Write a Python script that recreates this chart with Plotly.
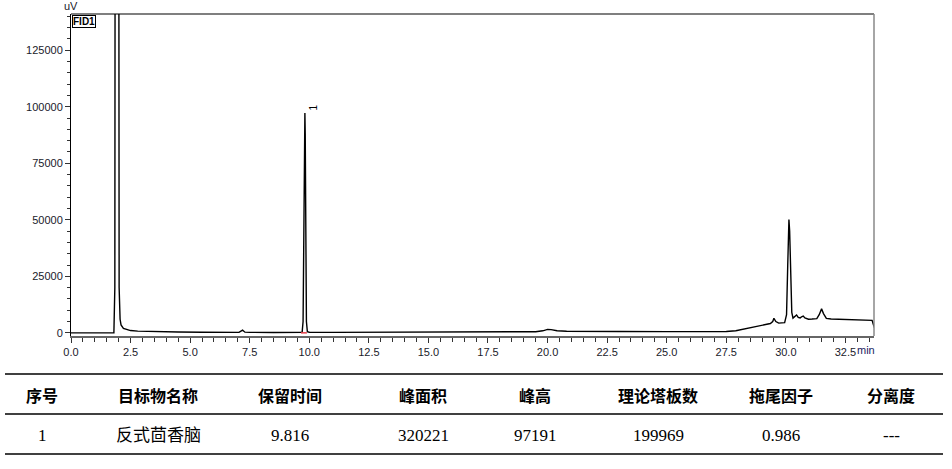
import plotly.graph_objects as go

# chromatogram (min, uV)
tiempo = [0.0, 1.80, 1.84, 1.86, 1.90, 1.96, 2.00, 2.02, 2.06, 2.10, 2.20, 2.35, 2.5, 2.8, 3.2, 3.8,
          4.5, 5.5, 6.5, 7.05, 7.15, 7.2, 7.3, 7.5, 8.5, 9.5, 9.70, 9.74, 9.78, 9.80, 9.816, 9.83,
          9.85, 9.88, 9.92, 10.0, 11.0, 12.5, 14.0, 15.5, 17.0, 18.5, 19.5, 19.8, 20.0, 20.15, 20.4,
          20.8, 21.5, 23.0, 25.0, 26.5, 27.5, 27.9, 28.2, 28.5, 28.8, 29.1, 29.35, 29.45, 29.5,
          29.58, 29.7, 29.95, 30.03, 30.08, 30.13, 30.16, 30.2, 30.25, 30.3, 30.4, 30.45, 30.52,
          30.6, 30.68, 30.73, 30.8, 30.95, 31.1, 31.3, 31.4, 31.5, 31.58, 31.7, 31.9, 32.5, 33.0,
          33.5, 33.62, 33.68, 33.75]
senal = [0, 0, 20000, 600000, 900000, 800000, 150000, 20000, 6000, 3500, 2000, 1400, 1000, 750, 600, 450,
         350, 250, 200, 200, 900, 1200, 300, 200, 150, 150, 200, 5000, 60000, 92000, 97191, 88000,
         40000, 5000, 500, 250, 200, 200, 250, 300, 350, 400, 500, 900, 1500, 1400, 900,
         700, 600, 600, 550, 500, 600, 900, 1500, 2300, 3000, 3600, 4100, 5000, 6400,
         5000, 4300, 4500, 8000, 30000, 50100, 45000, 25000, 9000, 6500, 7500, 7900, 6800,
         6600, 7200, 7400, 6600, 6000, 6100, 6300, 8000, 10600, 8500, 6400, 6100, 5900, 5800,
         5600, 5500, 3500, 1500]

pico_tr = 9.816
pico_base = [9.65, 9.90]

# result table
cabecera = ['序号', '目标物名称', '保留时间', '峰面积', '峰高', '理论塔板数', '拖尾因子', '分离度']
fila = ['1', '反式茴香脑', '9.816', '320221', '97191', '199969', '0.986', '---']
col_px = [42, 158, 290, 423, 535, 658, 781, 891]

W, H = 952, 469
L, R, T, B = 71, 874, 14, 336


def px(x):
    return (x - L) / (R - L)


def py(y):
    return (B - y) / (B - T)


def texto(x, y, s, fuente, **kw):
    fig.add_annotation(x=px(x), y=py(y), xref='paper', yref='paper', text=s, showarrow=False,
                       xanchor=kw.pop('xanchor', 'center'), yanchor=kw.pop('yanchor', 'middle'),
                       font=fuente, **kw)


fig = go.Figure()
fig.add_trace(go.Scatter(x=tiempo, y=senal, mode='lines',
                         line=dict(color='black', width=1.4), hoverinfo='skip'))
fig.add_trace(go.Scatter(x=pico_base, y=[0, 0], mode='lines',
                         line=dict(color='#e8404a', width=1.5), hoverinfo='skip'))

eje = dict(showgrid=False, zeroline=False, showline=True, ticks='outside', ticklen=5,
           tickfont=dict(family='Liberation Sans', size=11, color='#1a1a2a'))
fig.update_xaxes(range=[0, 33.7], dtick=2.5, tickformat='.1f', linecolor='#666', linewidth=1.5,
                 tickcolor='#333', minor=dict(dtick=0.5, ticks='outside', ticklen=4, tickcolor='#333'),
                 **eje)
fig.update_yaxes(range=[-1400, 141000], dtick=25000, tickformat='d', linecolor='black', linewidth=1,
                 tickcolor='#333', minor=dict(dtick=5000, ticks='outside', ticklen=3, tickcolor='#333'),
                 **eje)

fig.add_shape(type='line', xref='paper', yref='paper', x0=0, x1=1, y0=1, y1=1,
              line=dict(color='black', width=1.2))
fig.add_shape(type='line', xref='paper', yref='paper', x0=1, x1=1, y0=0, y1=1,
              line=dict(color='#888', width=1.5))

sans = dict(family='Liberation Sans', size=11, color='#1a1a2a')
texto(71, 6, 'uV', sans)
texto(866, 350, 'min', dict(family='Liberation Sans', size=11, color='#1a1a60'))
texto(72, 15, '<b>FID1</b>', dict(family='Liberation Sans', size=10, color='black'),
      xanchor='left', yanchor='top', bordercolor='black', borderwidth=1, borderpad=0, bgcolor='white')
fig.add_annotation(x=pico_tr, y=py(107), yref='paper', text='1', textangle=-90, showarrow=False,
                   xanchor='left', yanchor='middle', xshift=1,
                   font=dict(family='Liberation Sans', size=10, color='black'))

# table rules and text
for yy in [374, 414, 454]:
    fig.add_shape(type='line', xref='paper', yref='paper', x0=px(5), x1=px(943),
                  y0=py(yy), y1=py(yy), line=dict(color='black', width=1.5))
for c, h, v in zip(col_px, cabecera, fila):
    texto(c, 395, '<b>' + h + '</b>', dict(family='Noto Sans CJK SC', size=16, color='black'))
    texto(c, 435, v, dict(family='Liberation Serif, Noto Sans CJK SC', size=17, color='black'))

fig.update_layout(width=W, height=H, showlegend=False, template='plotly_white',
                  plot_bgcolor='white', paper_bgcolor='white',
                  margin=dict(l=L, r=W - R, t=T, b=H - B))
fig.write_html('out.html', config={'displayModeBar': False},
               post_script="document.body.style.margin='0px';")
